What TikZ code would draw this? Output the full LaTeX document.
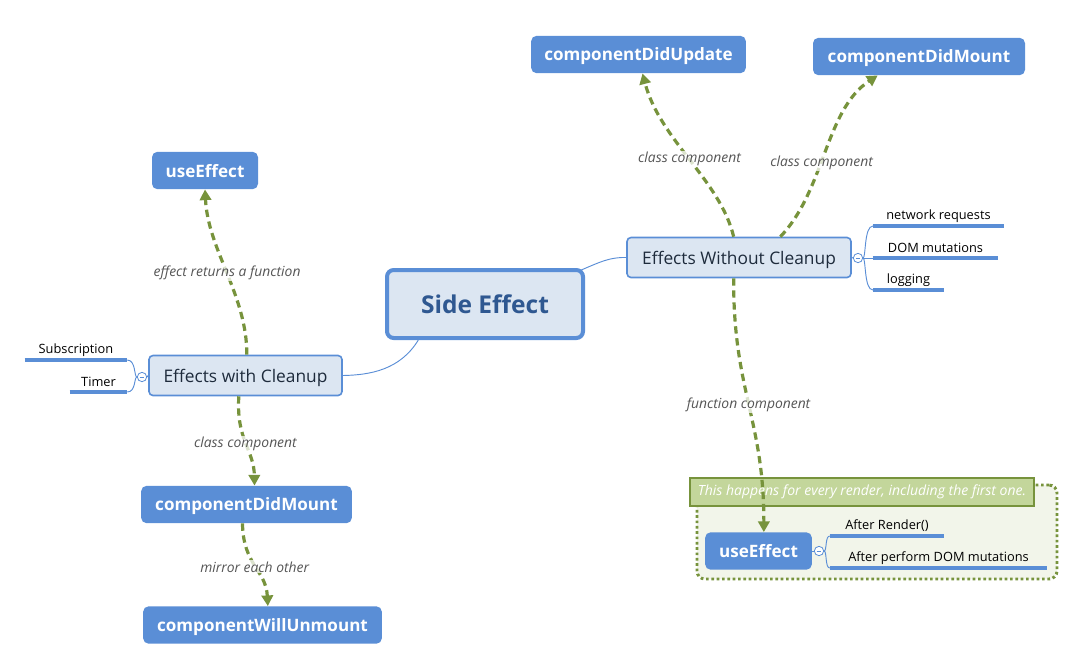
\documentclass[tikz,border=0pt]{standalone}
\usepackage{fontspec}
\setmainfont{Open Sans}
\usetikzlibrary{arrows.meta}
\definecolor{boxblue}{HTML}{5A8ED6}
\definecolor{lightfill}{HTML}{DCE6F2}
\definecolor{topictext}{HTML}{2F5891}
\definecolor{subtext}{HTML}{1E2B3C}
\definecolor{dgreen}{HTML}{77933C}
\definecolor{bndfill}{HTML}{F2F5EA}
\definecolor{bndlabel}{HTML}{C3D69B}
\definecolor{lbltext}{HTML}{555555}
\tikzset{
  central/.style={draw=boxblue, line width=3pt, fill=lightfill, rounded corners=5pt,
    text=topictext, font=\fontsize{18.4}{22}\selectfont\bfseries, minimum width=147pt, minimum height=51pt, text depth=0pt},
  mainbox/.style={draw=boxblue, line width=1.2pt, fill=lightfill, rounded corners=3pt,
    text=subtext, font=\fontsize{13}{15}\selectfont, minimum height=30pt, inner xsep=4pt, text depth=0pt},
  bluebox/.style={fill=boxblue, rounded corners=4pt, text=white,
    font=\fontsize{12.8}{15}\selectfont\bfseries, minimum height=28pt, text depth=0pt},
  leaf/.style={font=\fontsize{9.6}{11}\selectfont, text=black, anchor=south, inner sep=2pt, minimum height=15pt},
  leafline/.style={draw=boxblue, line width=2.4pt},
  branch/.style={draw=boxblue, line width=0.7pt},
  thinlink/.style={draw=boxblue, line width=0.7pt},
  collapse/.style={circle, draw=boxblue, fill=white, line width=0.6pt, minimum size=7pt, inner sep=0pt,
    path picture={\draw[boxblue, line width=0.6pt] ([xshift=-1.8pt]path picture bounding box.center) -- ([xshift=1.8pt]path picture bounding box.center);}},
  relation/.style={draw=dgreen, line width=2.4pt, dash pattern=on 5.5pt off 3.5pt,
    -{Triangle[length=8pt,width=8.5pt]}},
  rellabel/.style={font=\fontsize{10.4}{12}\selectfont\itshape, text=lbltext, fill=white, fill opacity=0.75, text opacity=1, inner sep=1pt},
}
\begin{document}
\begin{tikzpicture}[x=0.75pt,y=-0.75pt]
\useasboundingbox (0,0) rectangle (1088,662);

% boundary
\node[draw=dgreen, line width=2.2pt, dash pattern=on 2pt off 2pt, fill=bndfill, rounded corners=6pt,
  minimum width=270pt, minimum height=70.5pt, inner sep=0pt] (bnd) at (877,532) {};
\node[draw=dgreen, line width=2.2pt, fill=bndlabel, minimum width=258pt, minimum height=21pt, inner sep=0pt,
  font=\fontsize{10.5}{12}\selectfont\itshape, text=white] (bndl) at (862,492) {This happens for every render, including the first one.};

% nodes
\node[central] (se) at (485,304) {Side Effect};
\node[mainbox, minimum width=144.75pt] (ewc) at (245.5,375.5) {Effects with Cleanup};
\node[mainbox, minimum width=168pt] (ewoc) at (739,257.5) {Effects Without Cleanup};

\node[bluebox, minimum width=79.5pt] (ue1) at (205,170.5) {useEffect};
\node[bluebox, minimum width=158pt] (cdm1) at (246.5,504.5) {componentDidMount};
\node[bluebox, minimum width=179pt] (cwu) at (262.5,625) {componentWillUnmount};
\node[bluebox, minimum width=161pt] (cdu) at (638.5,54.5) {componentDidUpdate};
\node[bluebox, minimum width=159pt] (cdm2) at (919,56.5) {componentDidMount};
\node[bluebox, minimum width=80pt] (ue2) at (758.5,551) {useEffect};

% thin links from central topic
\draw[thinlink] ([xshift=-4pt,yshift=-2pt]se.north east) .. controls (600,262) and (610,257) .. (ewoc.west);
\draw[thinlink] ([xshift=25pt]se.south west) .. controls (400,370) and (370,375) .. (ewc.east);

% left leaves
\node[leaf, minimum width=76.5pt] (sub) at (76,360) {Subscription};
\node[leaf, minimum width=42.75pt] (tim) at (98.5,392) {Timer};
\draw[leafline] (sub.south west) -- (sub.south east);
\draw[leafline] (tim.south west) -- (tim.south east);
\node[collapse] (c1) at (142,377) {};
\draw[branch] (c1.west) .. controls (134,377) and (136,360) .. (sub.south east);
\draw[branch] (c1.west) .. controls (134,377) and (136,392) .. (tim.south east);
\draw[branch] (c1.east) -- (ewc.west);

% right leaves (effects without cleanup)
\node[leaf, minimum width=98pt] (nr) at (938.5,226) {network requests};
\node[leaf, minimum width=94pt] (dm) at (935.5,258) {DOM mutations};
\node[leaf, minimum width=53pt] (lg) at (908.5,290) {logging};
\draw[leafline] (nr.south west) -- (nr.south east);
\draw[leafline] (dm.south west) -- (dm.south east);
\draw[leafline] (lg.south west) -- (lg.south east);
\node[collapse] (c2) at (858,258) {};
\draw[branch] (ewoc.east) -- (c2.west);
\draw[branch] (c2.east) .. controls (866,258) and (864,226) .. (nr.south west);
\draw[branch] (c2.east) -- (dm.south west);
\draw[branch] (c2.east) .. controls (866,258) and (864,290) .. (lg.south west);

% useEffect leaves
\node[leaf, minimum width=85.5pt] (ar) at (887,536) {After Render()};
\node[leaf, minimum width=162.75pt] (ap) at (938.5,568) {After perform DOM mutations};
\draw[leafline] (ar.south west) -- (ar.south east);
\draw[leafline] (ap.south west) -- (ap.south east);
\node[collapse] (c3) at (819,551) {};
\draw[branch] (ue2.east) -- (c3.west);
\draw[branch] (c3.east) .. controls (827,551) and (825,536) .. (ar.south west);
\draw[branch] (c3.east) .. controls (827,551) and (825,568) .. (ap.south west);

% relationships
\draw[relation] ([xshift=1pt]ewc.north) .. controls (247,295) and (208,250) .. (ue1.south)
  node[pos=0.5, rellabel] {effect returns a function};
\draw[relation] ([xshift=-5pt]ewc.south) .. controls (236,440) and (254,450) .. ([xshift=6pt]cdm1.north)
  node[pos=0.5, rellabel] {class component};
\draw[relation] ([xshift=-3pt]cdm1.south) .. controls (243,565) and (266,570) .. ([xshift=4pt]cwu.north)
  node[pos=0.5, rellabel] {mirror each other};
\draw[relation] ([xshift=-4pt]ewoc.north) .. controls (720,180) and (660,140) .. ([xshift=3pt]cdu.south)
  node[pos=0.5, rellabel] {class component};
\draw[relation] ([xshift=31pt]ewoc.north) .. controls (825,190) and (825,110) .. ([xshift=-31pt]cdm2.south)
  node[pos=0.44, rellabel] {class component};
\draw[relation] ([xshift=-4pt]ewoc.south) .. controls (733,390) and (764,420) .. ([xshift=4pt]ue2.north)
  node[pos=0.5, rellabel] {function component};
\end{tikzpicture}
\end{document}
